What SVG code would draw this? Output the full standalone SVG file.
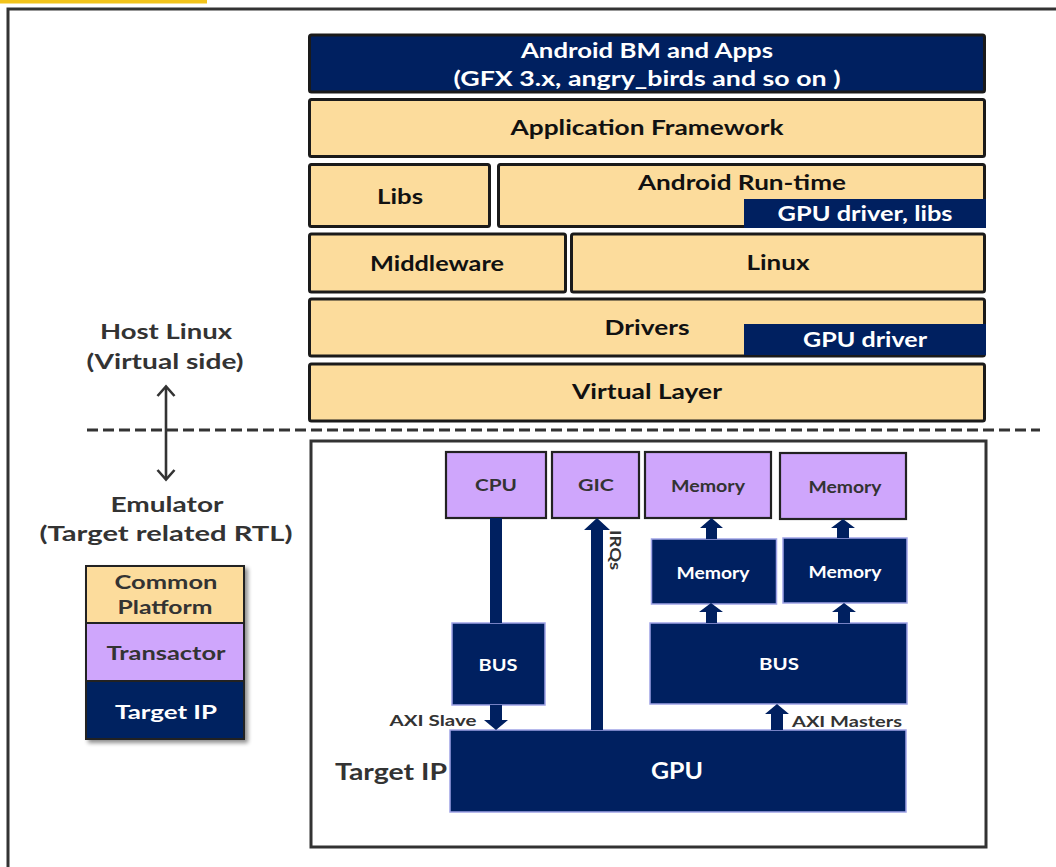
<svg xmlns="http://www.w3.org/2000/svg" width="1056" height="867" viewBox="0 0 1056 867">
<defs>
<style>
text{font-family:"Lato","Liberation Sans",sans-serif;font-weight:700;text-anchor:middle}
.stk{fill:#FCDC9C;stroke:#1a1a1a;stroke-width:3}
.top{fill:#002060;stroke:#1a1a1a;stroke-width:3}
.nav{fill:#002060}
.lav{fill:#CFA6FC;stroke:#222;stroke-width:2.2}
.tn{fill:#002060;stroke:#9FA3E6;stroke-width:1.5}
.dk{fill:#111;font-size:21px}
.wh{fill:#fff}
.gr{fill:#333}
.arr{fill:#002060}
.chev{fill:none;stroke:#333;stroke-width:2.6}
</style>
<filter id="sh" x="-10%" y="-10%" width="130%" height="130%">
<feGaussianBlur in="SourceAlpha" stdDeviation="2"/>
<feOffset dx="3" dy="3"/>
<feComponentTransfer><feFuncA type="linear" slope="0.45"/></feComponentTransfer>
<feMerge><feMergeNode/><feMergeNode in="SourceGraphic"/></feMerge>
</filter>
</defs>
<rect x="0" y="0" width="1056" height="867" fill="#fff"/>
<rect x="0" y="0" width="207" height="3.5" fill="#F2C31A"/>
<rect id="frame" x="8" y="9" width="1120" height="920" fill="none" stroke="#333" stroke-width="3"/>

<!-- Host stack -->
<g id="android-bm">
<rect class="top" x="309.5" y="35" width="675" height="57" rx="2"/>
<text class="wh" x="647" y="58" font-size="20" textLength="252" lengthAdjust="spacingAndGlyphs">Android BM and Apps</text>
<text class="wh" x="647" y="86" font-size="20" textLength="387" lengthAdjust="spacingAndGlyphs">(GFX 3.x, angry_birds  and so on )</text>
</g>
<g id="app-framework">
<rect class="stk" x="309.5" y="99.5" width="675" height="57" rx="2"/>
<text class="dk" x="647" y="135" textLength="273" lengthAdjust="spacingAndGlyphs">Application Framework</text>
</g>
<g id="libs">
<rect class="stk" x="309.5" y="164.5" width="180" height="62" rx="2"/>
<text class="dk" x="400" y="204" textLength="46" lengthAdjust="spacingAndGlyphs">Libs</text>
</g>
<g id="android-runtime">
<rect class="stk" x="498.5" y="164.5" width="486" height="62" rx="2"/>
<text class="dk" x="742" y="190" textLength="208" lengthAdjust="spacingAndGlyphs">Android Run-time</text>
<rect class="nav" x="744" y="199" width="242" height="29"/>
<text class="wh" x="865" y="221" font-size="20" textLength="175" lengthAdjust="spacingAndGlyphs">GPU driver, libs</text>
</g>
<g id="middleware">
<rect class="stk" x="309.5" y="234" width="256" height="58" rx="2"/>
<text class="dk" x="437" y="271" textLength="134" lengthAdjust="spacingAndGlyphs">Middleware</text>
</g>
<g id="linux">
<rect class="stk" x="571.5" y="234" width="413" height="58" rx="2"/>
<text class="dk" x="778" y="270" textLength="63" lengthAdjust="spacingAndGlyphs">Linux</text>
</g>
<g id="drivers">
<rect class="stk" x="309.5" y="299" width="675" height="57" rx="2"/>
<text class="dk" x="647" y="335" textLength="85" lengthAdjust="spacingAndGlyphs">Drivers</text>
<rect class="nav" x="744" y="324" width="242" height="31"/>
<text class="wh" x="865" y="347" font-size="20" textLength="124" lengthAdjust="spacingAndGlyphs">GPU driver</text>
</g>
<g id="virtual-layer">
<rect class="stk" x="309.5" y="364" width="675" height="57" rx="2"/>
<text class="dk" x="647" y="399" textLength="150" lengthAdjust="spacingAndGlyphs">Virtual Layer</text>
</g>

<!-- side labels -->
<g id="host-label">
<text class="gr" x="166" y="339" font-size="21" textLength="132" lengthAdjust="spacingAndGlyphs">Host Linux</text>
<text class="gr" x="165" y="369" font-size="21" textLength="157" lengthAdjust="spacingAndGlyphs">(Virtual side)</text>
</g>
<g id="emulator-label">
<text class="gr" x="167" y="512" font-size="21" textLength="113" lengthAdjust="spacingAndGlyphs">Emulator</text>
<text class="gr" x="166" y="541" font-size="21" textLength="253" lengthAdjust="spacingAndGlyphs">(Target related RTL)</text>
</g>

<!-- legend -->
<g id="legend" filter="url(#sh)">
<rect x="86" y="566" width="158" height="57" fill="#FCDC9C" stroke="#222" stroke-width="2"/>
<rect x="86" y="623" width="158" height="58" fill="#CFA6FC" stroke="#222" stroke-width="2"/>
<rect x="86" y="681" width="158" height="58" fill="#002060" stroke="#222" stroke-width="2"/>
</g>
<g id="legend-text">
<text class="gr" x="166" y="589" font-size="19" textLength="103" lengthAdjust="spacingAndGlyphs">Common</text>
<text class="gr" x="165" y="614" font-size="19" textLength="95" lengthAdjust="spacingAndGlyphs">Platform</text>
<text class="gr" x="166" y="660" font-size="19" textLength="119" lengthAdjust="spacingAndGlyphs">Transactor</text>
<text class="wh" x="166" y="719" font-size="19" textLength="102" lengthAdjust="spacingAndGlyphs">Target IP</text>
</g>

<!-- emulator box -->
<g id="emulator">
<rect x="311" y="441" width="675" height="406" fill="none" stroke="#333" stroke-width="3"/>
</g>
<g id="cpu">
<rect class="lav" x="446" y="452" width="100" height="66"/>
<text class="gr" x="496" y="491" font-size="17" textLength="42" lengthAdjust="spacingAndGlyphs">CPU</text>
</g>
<g id="gic">
<rect class="lav" x="552" y="452" width="87" height="66"/>
<text class="gr" x="596" y="491" font-size="17" textLength="36" lengthAdjust="spacingAndGlyphs">GIC</text>
</g>
<g id="memory-1">
<rect class="lav" x="645" y="452" width="126" height="66"/>
<text class="gr" x="708" y="492" font-size="17" textLength="74" lengthAdjust="spacingAndGlyphs">Memory</text>
</g>
<g id="memory-2">
<rect class="lav" x="780" y="453" width="126" height="66"/>
<text class="gr" x="845" y="493" font-size="17" textLength="73" lengthAdjust="spacingAndGlyphs">Memory</text>
</g>
<g id="memory-ctrl-1">
<rect class="tn" x="651.5" y="539" width="125" height="65"/>
<text class="wh" x="713" y="579" font-size="17" textLength="73" lengthAdjust="spacingAndGlyphs">Memory</text>
</g>
<g id="memory-ctrl-2">
<rect class="tn" x="783" y="538" width="124" height="65"/>
<text class="wh" x="845" y="578" font-size="17" textLength="73" lengthAdjust="spacingAndGlyphs">Memory</text>
</g>
<g id="bus-left">
<rect class="tn" x="452" y="623" width="93" height="82"/>
<text class="wh" x="498" y="671" font-size="17" textLength="39" lengthAdjust="spacingAndGlyphs">BUS</text>
</g>
<g id="bus-right">
<rect class="tn" x="650" y="623" width="257" height="81"/>
<text class="wh" x="779" y="670" font-size="17" textLength="40" lengthAdjust="spacingAndGlyphs">BUS</text>
</g>
<g id="gpu">
<rect class="tn" x="450" y="730" width="456" height="82"/>
<text class="wh" x="677" y="779" font-size="22" textLength="52" lengthAdjust="spacingAndGlyphs">GPU</text>
<text class="gr" x="391" y="780" font-size="22" textLength="112" lengthAdjust="spacingAndGlyphs">Target IP</text>
</g>

<!-- connectors -->
<g id="connectors">
<line x1="87" y1="430" x2="1040" y2="430" stroke="#333" stroke-width="3" stroke-dasharray="11 5"/>
<line x1="166" y1="387" x2="166" y2="479" stroke="#333" stroke-width="2.6"/>
<path class="chev" d="M157.5,396 L166,386.5 L174.5,396"/>
<path class="chev" d="M157.5,470 L166,479.5 L174.5,470"/>
<rect class="arr" x="490" y="518" width="12" height="105"/>
<polygon class="arr" points="490,705 502,705 502,720 508,720 496,730 484,720 490,720"/>
<polygon class="arr" points="591,730 603,730 603,530 610,530 597,518 584,530 591,530"/>
<polygon class="arr" points="706,539 717,539 717,528 723,528 711.5,518 700,528 706,528"/>
<polygon class="arr" points="837,538 849,538 849,528 855,528 843,519 831,528 837,528"/>
<polygon class="arr" points="706,623 717,623 717,612 723,612 711,603 699,612 706,612"/>
<polygon class="arr" points="838,623 850,623 850,612 856,612 844,603 832,612 838,612"/>
<polygon class="arr" points="771,730 783,730 783,714 789,714 777,704 765,714 771,714"/>
<text class="gr" x="433" y="726" font-size="15" textLength="87" lengthAdjust="spacingAndGlyphs">AXI Slave</text>
<text class="gr" x="847" y="727" font-size="15" textLength="110" lengthAdjust="spacingAndGlyphs">AXI Masters</text>
<text class="gr" font-size="15" transform="translate(610,550) rotate(90)" textLength="40" lengthAdjust="spacingAndGlyphs">IRQs</text>
</g>
</svg>
